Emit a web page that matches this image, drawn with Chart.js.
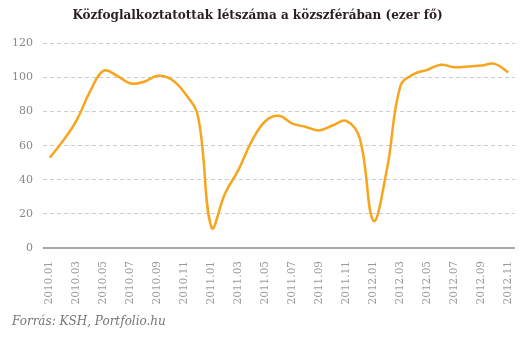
<!DOCTYPE html>
<html>
<head>
<meta charset="utf-8">
<script src="https://cdn.jsdelivr.net/npm/chart.js@4/dist/chart.umd.min.js"></script>
<style>
  body { margin: 0; background: #fff; }
  #wrap { position: relative; width: 531px; height: 342px; }
  #source {
    position: absolute; left: 12px; top: 314px;
    font: italic 12px "DejaVu Serif", serif; color: #777;
  }
</style>
</head>
<body>
<div id="wrap">
  <canvas id="chart" width="531" height="342"></canvas>
  <div id="source">Forrás: KSH, Portfolio.hu</div>
</div>
<script>
// havi adatok, 2010.01 - 2012.11 (ezer fő)
const months = [
  '2010.01', '2010.02', '2010.03', '2010.04', '2010.05', '2010.06',
  '2010.07', '2010.08', '2010.09', '2010.10', '2010.11', '2010.12',
  '2011.01', '2011.02', '2011.03', '2011.04', '2011.05', '2011.06',
  '2011.07', '2011.08', '2011.09', '2011.10', '2011.11', '2011.12',
  '2012.01', '2012.02', '2012.03', '2012.04', '2012.05', '2012.06',
  '2012.07', '2012.08', '2012.09', '2012.10', '2012.11'
];
const workers = [
  53, 63, 75, 92, 104, 101,
  96.5, 97.5, 101, 99, 91, 77,
  12, 32, 46, 63, 74.5, 77.5,
  73, 71, 69, 72, 74.5, 64,
  16, 46, 95, 102, 104.5, 107.5,
  106, 106.5, 107, 108, 103
];
const yTicks = [0, 20, 40, 60, 80, 100, 120];

// draws the solid bottom axis line above the dashed grid
const axisLine = {
  id: 'axisLine',
  afterDatasetsDraw(chart) {
    const a = chart.chartArea;
    const c = chart.ctx;
    c.save();
    c.strokeStyle = '#888';
    c.lineWidth = 1.5;
    c.beginPath();
    c.moveTo(a.left, chart.scales.y.getPixelForValue(0));
    c.lineTo(a.right, chart.scales.y.getPixelForValue(0));
    c.stroke();
    c.restore();
  }
};

const ctx = document.getElementById('chart').getContext('2d');
const chart = new Chart(ctx, {
  type: 'line',
  data: {
    labels: months,
    datasets: [{
      data: workers,
      borderColor: '#F7A51E',
      borderWidth: 2.5,
      pointRadius: 0,
      tension: 0.4,
      fill: false
    }]
  },
  plugins: [axisLine],
  options: {
    responsive: false,
    animation: false,
    layout: { padding: { left: 0, right: 16, top: 4, bottom: 0 } },
    plugins: {
      legend: { display: false },
      tooltip: { enabled: false },
      title: {
        display: true,
        text: 'Közfoglalkoztatottak létszáma a közszférában (ezer fő)',
        color: '#2a1e1e',
        font: { family: 'DejaVu Serif', size: 12, weight: 'bold' },
        padding: { top: 5, bottom: 20 }
      }
    },
    scales: {
      x: {
        offset: true,
        grid: { display: false },
        border: { display: false },
        ticks: {
          autoSkip: false,
          minRotation: 90,
          maxRotation: 90,
          color: '#999',
          padding: 5,
          font: { family: 'DejaVu Serif', size: 10.5 },
          callback: function (val, i) {
            return i % 2 === 0 ? months[i] : '';
          }
        },
        afterFit: function (scale) { scale.height = 94; }
      },
      y: {
        min: 0,
        max: 120,
        afterBuildTicks: function (scale) {
          scale.ticks = yTicks.map(v => ({ value: v }));
        },
        grid: {
          color: function (c) { return c.tick && c.tick.value === 0 ? 'rgba(0,0,0,0)' : '#ccc'; },
          drawTicks: false
        },
        border: { display: false, dash: [4, 3] },
        ticks: {
          color: '#888',
          padding: 10,
          font: { family: 'DejaVu Serif', size: 11 }
        },
        afterFit: function (scale) { scale.width = 43; }
      }
    }
  }
});
</script>
</body>
</html>
